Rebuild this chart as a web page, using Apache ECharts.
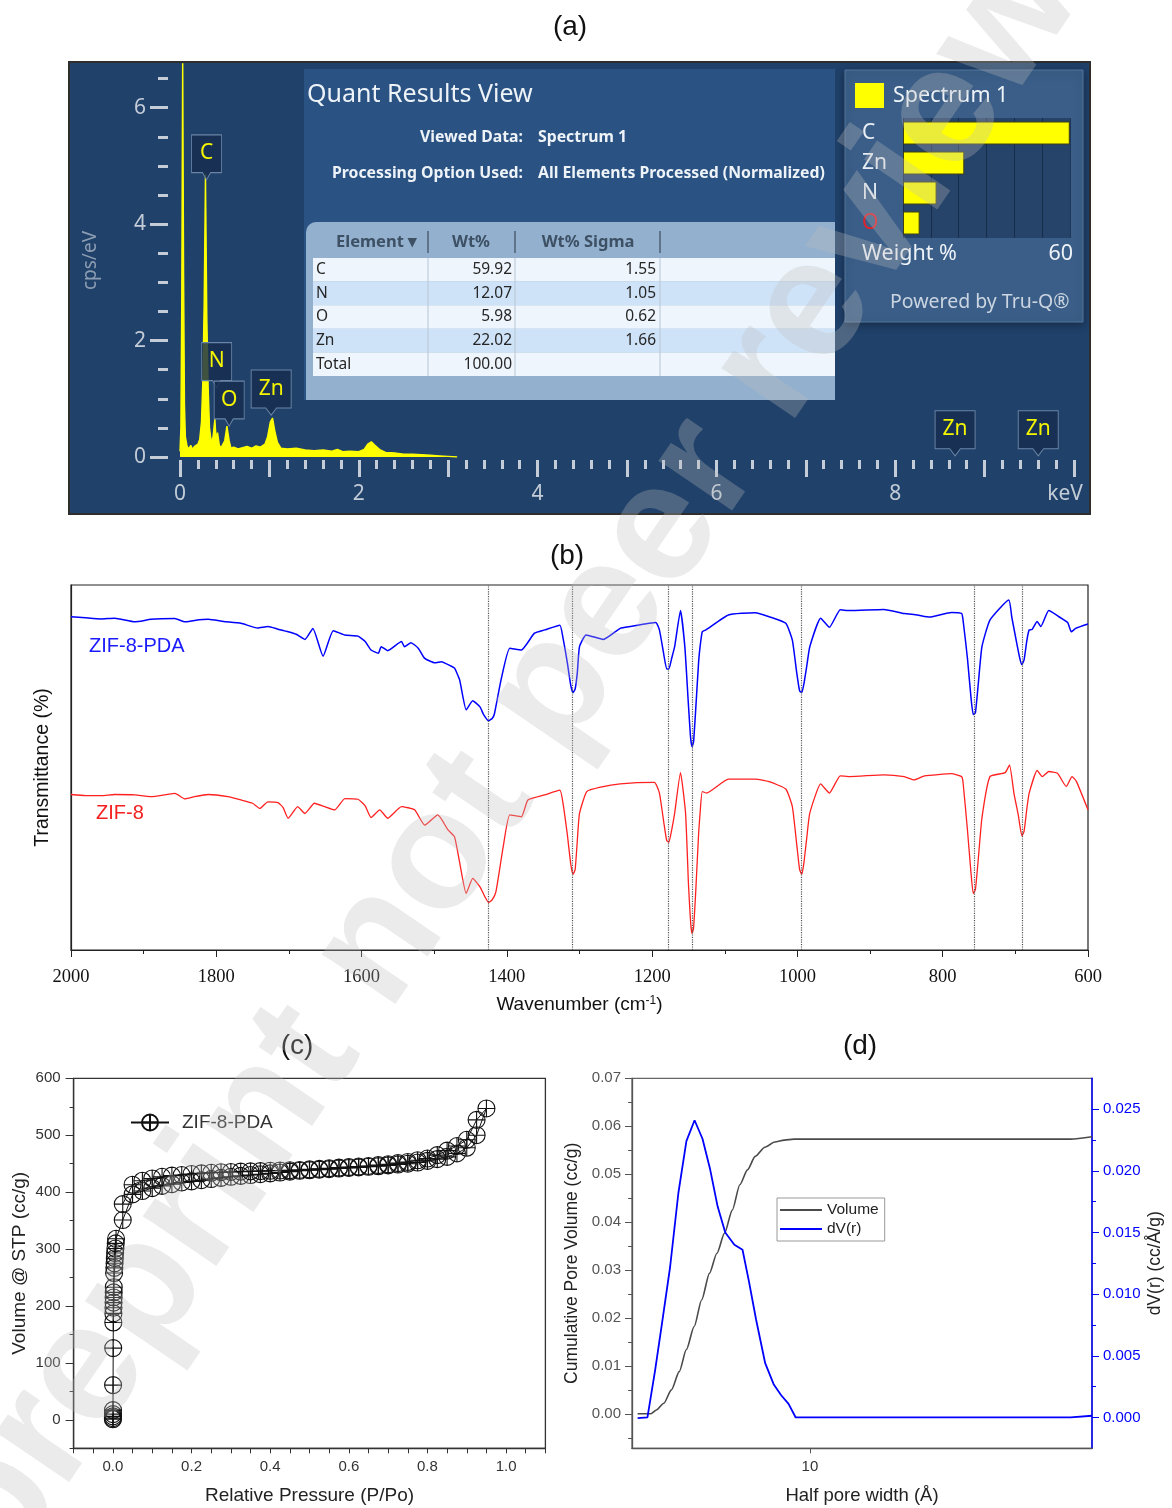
<!DOCTYPE html>
<html>
<head>
<meta charset="utf-8">
<script src="https://cdn.jsdelivr.net/npm/echarts@6/dist/echarts.min.js"></script>
<style>
html,body{margin:0;padding:0;background:#fff;}
#chart{width:1172px;height:1508px;}
</style>
</head>
<body>
<div id="chart"></div>
<script>
// ---------- (a) EDS spectrum ----------
const edsKeV = [0, 0.01, 0.02, 0.03, 0.04, 0.05, 0.06, 0.08, 0.10, 0.12, 0.14, 0.16, 0.18, 0.20, 0.22, 0.24, 0.255, 0.27, 0.285,
  0.30, 0.315, 0.33, 0.35, 0.37, 0.39, 0.405, 0.42, 0.44, 0.46, 0.48, 0.50, 0.525, 0.55, 0.57, 0.60, 0.65, 0.70, 0.75, 0.80,
  0.85, 0.90, 0.95, 0.98, 1.01, 1.035, 1.06, 1.09, 1.13, 1.20, 1.30, 1.40, 1.50, 1.60, 1.70, 1.76, 1.82, 1.90, 2.00, 2.06,
  2.10, 2.14, 2.18, 2.24, 2.30, 2.40, 2.50, 2.60, 2.70, 2.80, 2.90, 3.00, 3.10];
const edsCps = [0.10, 0.50, 2.80, 6.90, 3.20, 0.90, 0.35, 0.18, 0.14, 0.20, 0.13, 0.18, 0.15, 0.22, 0.30, 0.60, 1.30, 2.60, 4.85,
  2.40, 1.20, 0.50, 0.25, 0.35, 0.65, 0.28, 0.42, 0.20, 0.16, 0.15, 0.28, 0.53, 0.28, 0.15, 0.17, 0.14, 0.16, 0.18, 0.15,
  0.19, 0.17, 0.22, 0.35, 0.60, 0.67, 0.45, 0.25, 0.15, 0.14, 0.15, 0.12, 0.11, 0.12, 0.10, 0.13, 0.09, 0.10, 0.09, 0.13,
  0.22, 0.26, 0.20, 0.12, 0.08, 0.07, 0.05, 0.05, 0.04, 0.03, 0.02, 0.01, 0.0];
const edsYMajor = [0, 2, 4, 6];
const edsYMinor = [0.5, 1, 1.5, 2.5, 3, 3.5, 4.5, 5, 5.5, 6.5];
// element line markers
const edsLineText = ['C', 'N', 'O', 'Zn', 'Zn', 'Zn'];
const edsLineKeV = [0.297, 0.41, 0.55, 1.02, 8.67, 9.6];
const edsLineCps = [4.76, 1.19, 0.53, 0.72, 0.02, 0.02];

// quantification results
const quantElements = ['C', 'N', 'O', 'Zn'];
const quantWt = [59.92, 12.07, 5.98, 22.02];
const quantSigma = [1.55, 1.05, 0.62, 1.66];
const quantTotal = 100.00;
const weightMax = 60;

// ---------- (b) FTIR ----------
const pdaWn = [2000,1980,1959,1940,1912,1890,1857,1843,1830,1811,1790,1766,1743,1729,1715,1701,1690,1678,1667,1653,
  1639,1623,1605,1595,1587,1577,1573,1564,1545,1541,1532,1522,1513,1499,1490,1477,1472,1465,1456,1447,
  1437,1432,1425,1420,1417,1408,1396,1380,1362,1348,1327,1323,1317,1312,1309,1306,1303,1300,1291,1267,
  1244,1230,1195,1190,1184,1180,1177,1173,1169,1161,1155,1150,1147,1145,1143,1140,1136,1134,1131,1126,
  1095,1058,1039,1016,1007,1001,997,994,991,987,983,968,956,941,928,881,853,835,818,788,
  774,772,766,761,758,755,751,746,735,709,705,699,694,691,688,684,681,677,670,665,654,640,628,623,617,600];
const pdaT = [91.3,91.0,90.7,90.9,89.9,90.6,90.8,89.9,90.3,90.6,90.0,89.5,88.2,88.6,87.9,87.2,86.5,85.1,88.1,80.5,
  87.5,86.3,86.0,84.5,82.2,81.3,83.1,82.0,84.5,83.1,84.2,82.7,79.9,78.7,79.0,77.8,77.2,74.0,65.8,68.3,
  66.6,64.5,62.8,63.5,64.8,74.0,82.7,82.2,86.8,87.7,89.0,85.8,79.0,72.5,70.5,71.5,76.0,83.1,86.3,85.1,
  88.1,88.6,89.7,87.7,81.0,77.0,77.0,80.0,83.1,93.0,83.1,67.0,58.0,55.7,57.0,66.0,79.0,83.1,87.2,87.7,
  91.8,92.4,91.3,89.5,84.9,76.0,71.0,70.5,73.0,78.0,83.1,90.9,88.4,93.2,93.0,93.3,92.2,91.8,91.2,92.5,
  92.2,90.4,80.0,69.0,64.5,65.0,73.0,83.1,90.4,95.9,91.3,85.0,80.0,78.2,79.5,85.0,87.7,87.8,90.0,88.6,93.0,91.3,89.7,87.2,88.1,89.3];
const zifWn = [2000,1980,1958,1940,1912,1890,1857,1843,1830,1811,1784,1766,1750,1740,1729,1715,1708,1701,1688,1678,
  1665,1651,1637,1623,1605,1595,1587,1575,1564,1545,1527,1513,1495,1481,1472,1465,1456,1447,1437,1430,
  1425,1420,1415,1405,1396,1380,1371,1348,1327,1323,1317,1312,1309,1306,1303,1300,1290,1271,1244,1197,
  1190,1184,1180,1177,1173,1169,1161,1154,1150,1147,1145,1143,1140,1136,1134,1131,1125,1095,1058,1039,
  1016,1007,1001,997,994,991,987,983,968,956,941,928,881,853,839,825,788,774,772,766,
  761,758,755,751,746,735,714,708,702,696,691,688,684,681,670,663,654,642,630,622,616,600];
const zifT = [42.6,42.3,42.3,42.6,42.5,42.0,42.9,41.4,42.0,42.6,42.0,41.1,40.2,38.8,40.6,40.4,39.0,36.1,39.3,37.4,
  40.2,39.3,38.4,41.5,41.3,39.5,36.3,38.4,36.1,39.3,38.4,34.2,37.0,32.9,31.0,24.0,15.5,19.6,17.3,14.5,
  13.0,13.8,16.0,28.3,37.0,36.5,41.1,42.5,43.8,40.6,32.0,23.5,20.7,22.0,30.0,37.4,43.4,44.6,45.5,45.9,
  43.0,35.0,30.0,29.5,33.0,37.5,48.6,37.5,18.0,7.5,4.5,6.0,16.0,32.0,37.5,43.4,43.0,46.8,46.8,46.1,
  44.1,39.3,29.0,22.0,20.7,24.0,31.0,37.5,45.5,43.0,47.7,47.5,48.0,47.5,46.6,47.7,48.3,47.5,45.9,33.0,
  21.0,15.5,16.5,25.0,36.2,47.5,48.6,50.7,43.0,37.0,31.3,32.5,39.0,43.0,49.2,47.5,48.9,48.4,44.8,47.5,46.2,38.4];
const bandWn = [1426, 1310, 1178, 1145, 995, 757, 690];

// ---------- (c) N2 isotherm ----------
const adsP = [0.00001,0.00003,0.00006,0.0001,0.0002,0.0004,0.0007,0.001,0.0012,0.0014,0.0016,0.0018,0.002,0.0022,0.003,
  0.0036,0.0042,0.0049,0.0056,0.0064,0.0072,0.008,0.025,0.05,0.075,0.1,0.125,0.15,0.175,0.2,0.225,0.25,0.275,0.3,
  0.325,0.35,0.375,0.4,0.425,0.45,0.475,0.5,0.525,0.55,0.575,0.6,0.625,0.65,0.675,0.7,0.725,0.75,0.775,0.8,0.825,
  0.85,0.875,0.9,0.925,0.95];
const adsV = [1,3,6,10,17,61,126,171,187,197,206,215,224,233,258,267,275,284,293,301,310,318,351,396,402,407,411,414,
  417,419,421,423,425,427,428.5,430,431.5,433,434.5,436,437.5,438.5,439.5,440.5,441.5,442.5,443.5,444.5,445.5,447,
  448.5,450,452,455,458,462,468,478,500,547];
const desP = [0.925,0.9,0.875,0.85,0.825,0.8,0.775,0.75,0.725,0.7,0.675,0.65,0.625,0.6,0.575,0.55,0.525,0.5,0.475,0.45,
  0.425,0.4,0.375,0.35,0.325,0.3,0.275,0.25,0.225,0.2,0.175,0.15,0.125,0.1,0.075,0.05,0.025];
const desV = [527,492,481,473,465,459,456,453,451,449,447.5,446,445,444,443,442,441,440,439,438.5,438,437.5,437,436.5,
  436,435.5,435,434,433,432,430,429,427,424,420,413,379];
const isoXLabels = [0, 0.2, 0.4, 0.6, 0.8, 1.0];
const isoYLabels = [0, 100, 200, 300, 400, 500, 600];
const isoYMinor = [-50, 50, 150, 250, 350, 450, 550];

// ---------- (d) pore size distribution ----------
const volR = [5.11,5.38,5.50,5.66,5.83,6.01,6.18,6.37,6.56,6.76,6.96,7.17,7.39,7.61,7.84,8.08,8.39,8.72,9.05,9.40,27.6,30.0];
const volV = [0.0000,0.0000,0.0008,0.0022,0.0050,0.0088,0.0134,0.0182,0.0238,0.0293,0.0335,0.0377,0.0425,0.0478,
  0.0509,0.0537,0.0556,0.0567,0.0571,0.0573,0.0573,0.0578];
const dvR = [5.11,5.31,5.47,5.63,5.80,5.99,6.18,6.38,6.58,6.78,6.98,7.19,7.45,7.69,7.88,8.11,8.40,8.68,8.94,9.20,9.46,27.6,30.0];
const dvV = [-0.00005,0.0000,0.0038,0.0079,0.0122,0.0182,0.0224,0.0241,0.0226,0.0201,0.0171,0.0150,0.0140,0.0136,
  0.0111,0.0079,0.0044,0.0027,0.0018,0.0011,0.0000,0.0000,0.00014];
const poreLeftLabels = [0, 0.01, 0.02, 0.03, 0.04, 0.05, 0.06, 0.07];
const poreLeftMinor = [-0.005, 0.005, 0.015, 0.025, 0.035, 0.045, 0.055, 0.065];
const poreRightLabels = [0, 0.005, 0.01, 0.015, 0.02, 0.025];
const poreRightMinor = [0.0025, 0.0075, 0.0125, 0.0175, 0.0225];

// ---------- styling helpers ----------
const SANS = '"Liberation Sans", Arial, sans-serif';
const UI = '"Noto Sans", "Open Sans", sans-serif';
const SERIF = '"Liberation Serif", "Times New Roman", serif';
const EDS_FG = '#c3ccd7';

const pairs = (xs, ys) => xs.map((x, i) => [x, ys[i]]);
const isoXTicks = [];
for (let i = -2; i <= 22; i++) isoXTicks.push(+(i * 0.05).toFixed(2));

const barOrder = quantElements.map((e, i) => ({ e: e, w: quantWt[i] })).sort((a, b) => b.w - a.w);

const calloutPath = 'path://M0,0 L30,0 L30,37 L19,37 L15,44 L11,37 L0,37 Z';
const circlePlus = 'path://M10,0 A10,10 0 1,1 10,20 A10,10 0 1,1 10,0 Z M0,10 L20,10 M10,0 L10,20';

function text(x, y, s, style, z) {
  return { type: 'text', x: x, y: y, z: z == null ? 5 : z, silent: true,
    style: Object.assign({ text: s, fontFamily: UI, fontSize: 16, fill: '#ffffff', align: 'left', verticalAlign: 'middle' }, style) };
}
function rect(x, y, w, h, style, z, r) {
  return { type: 'rect', z: z == null ? -5 : z, silent: true, shape: { x: x, y: y, width: w, height: h, r: r || 0 }, style: style };
}
function seg(x1, y1, x2, y2, stroke, w, z) {
  return { type: 'line', z: z == null ? 1 : z, silent: true, shape: { x1: x1, y1: y1, x2: x2, y2: y2 }, style: { stroke: stroke, lineWidth: w || 1 } };
}
function axisLine(color, width) {
  return { show: true, onZero: false, lineStyle: { color: color, width: width } };
}
const hiddenLine = { show: false, onZero: false };

// ---------- static layers ----------
const gfx = [];
// EDS software panel
gfx.push(rect(69, 62, 1021, 452, { fill: '#20416a', stroke: '#2e2e2e', lineWidth: 2 }, -10));
gfx.push(rect(304, 69, 531, 331, { fill: '#2a5282' }, -9));
gfx.push(text(307, 95, 'Quant Results View', { fontSize: 25, fill: '#eef3f8' }));
const infoStyle = { fontSize: 15.8, fontWeight: 'bold', fill: '#eef3f8' };
gfx.push(text(523, 137, 'Viewed Data:', Object.assign({ align: 'right' }, infoStyle)));
gfx.push(text(538, 137, 'Spectrum 1', infoStyle));
gfx.push(text(523, 173, 'Processing Option Used:', Object.assign({ align: 'right' }, infoStyle)));
gfx.push(text(538, 173, 'All Elements Processed (Normalized)', infoStyle));

// results table
gfx.push(rect(306, 222, 529, 178, { fill: '#93b1ce' }, -8, [10, 0, 0, 0]));
const headStyle = { fontSize: 16.5, fontWeight: 'bold', fill: '#3d5064' };
gfx.push(text(336, 242, 'Element \u25BE', headStyle));
gfx.push(text(471, 242, 'Wt%', Object.assign({ align: 'center' }, headStyle)));
gfx.push(text(588, 242, 'Wt% Sigma', Object.assign({ align: 'center' }, headStyle)));
[428, 515, 660].forEach(x => gfx.push(seg(x, 231, x, 253, '#5f7489', 2)));
const rowLabels = quantElements.concat(['Total']);
const rowWt = quantWt.map(v => v.toFixed(2)).concat([quantTotal.toFixed(2)]);
const rowSigma = quantSigma.map(v => v.toFixed(2)).concat(['']);
const rowH = 23.6;
rowLabels.forEach((lab, i) => {
  const y0 = 258 + i * rowH;
  gfx.push(rect(313, y0, 522, rowH, { fill: i % 2 ? '#cfe3f8' : '#eef5fc' }, -7));
  const cell = { fontSize: 15.5, fill: '#262626' };
  gfx.push(text(316, y0 + rowH / 2, lab, cell));
  gfx.push(text(512, y0 + rowH / 2, rowWt[i], Object.assign({ align: 'right' }, cell)));
  gfx.push(text(656, y0 + rowH / 2, rowSigma[i], Object.assign({ align: 'right' }, cell)));
});
[428, 515, 660].forEach(x => gfx.push(seg(x, 258, x, 258 + 5 * rowH, '#b7c5d3', 1)));

// weight % summary box
gfx.push(rect(845, 70, 238, 252, { fill: '#3a5e88', stroke: '#52769e', lineWidth: 1,
  shadowBlur: 8, shadowColor: 'rgba(0,0,0,0.35)', shadowOffsetY: 2 }, -9));
gfx.push(rect(855, 83, 29, 25, { fill: '#ffff00' }, 1));
gfx.push(text(893, 96, 'Spectrum 1', { fontSize: 21.5, fill: '#eef3f8' }));
gfx.push(text(862, 254, 'Weight %', { fontSize: 21.5, fill: '#eef3f8' }));
gfx.push(text(1073, 254, String(weightMax), { fontSize: 21.5, fill: '#eef3f8', align: 'right' }));
gfx.push(text(890, 302, 'Powered by Tru-Q\u00AE', { fontSize: 19.5, fill: '#cbd5e1' }));

// panel titles
[['(a)', 570, 27], ['(b)', 567, 556], ['(c)', 297, 1046], ['(d)', 860, 1046]].forEach(t =>
  gfx.push(text(t[1], t[2], t[0], { fontFamily: SANS, fontSize: 28, fill: '#111', align: 'center' })));

// FTIR trace names
gfx.push(text(89, 646, 'ZIF-8-PDA', { fontFamily: SANS, fontSize: 20, fill: '#1a1aff' }));
gfx.push(text(96, 813, 'ZIF-8', { fontFamily: SANS, fontSize: 20, fill: '#f52020' }));

// diagonal stamp
gfx.push({ type: 'text', x: 561, y: 679, rotation: 0.972, z: 100, silent: true,
  style: { text: 'preprint not peer reviewed', fontFamily: SANS, fontWeight: 'bold', fontSize: 168,
    fill: 'rgba(190,190,190,0.3)', align: 'center', verticalAlign: 'middle' } });

const noBounds = { outerBoundsMode: 'none' };

const option = {
  backgroundColor: '#ffffff',
  animation: false,
  textStyle: { fontFamily: SANS },
  grid: [
    Object.assign({ left: 180, top: 64, width: 894, height: 393 }, noBounds),
    Object.assign({ left: 903, top: 118, width: 167, height: 120, show: true, backgroundColor: 'rgba(22,46,80,0.55)', borderWidth: 0 }, noBounds),
    Object.assign({ left: 71, top: 585, width: 1017, height: 365, show: true, borderColor: '#222', borderWidth: 1.2 }, noBounds),
    Object.assign({ left: 73.6, top: 1078.3, width: 471.8, height: 370, show: true, borderColor: '#333', borderWidth: 1.3 }, noBounds),
    Object.assign({ left: 632, top: 1078.3, width: 460, height: 370, show: true, borderColor: '#666', borderWidth: 1.3 }, noBounds)
  ],
  xAxis: [
    { // 0: EDS energy, fine ticks and labels
      gridIndex: 0, type: 'value', min: 0, max: 10, interval: 0.2, position: 'bottom', offset: 3,
      axisLine: hiddenLine, splitLine: { show: false },
      axisTick: { show: true, length: 9, lineStyle: { color: EDS_FG, width: 3 } },
      axisLabel: { margin: 24, color: EDS_FG, fontSize: 21, fontFamily: UI,
        formatter: function (v) {
          const r = Math.round(v);
          if (Math.abs(v - r) > 1e-6) return '';
          if (r === 10) return '{k|keV}';
          return r % 2 === 0 ? String(r) : '';
        },
        rich: { k: { color: EDS_FG, fontSize: 21, fontFamily: UI, padding: [0, 18, 0, 0] } } }
    },
    { // 1: EDS energy, whole-keV ticks
      gridIndex: 0, type: 'value', min: 0, max: 10, interval: 1, position: 'bottom', offset: 3,
      axisLine: hiddenLine, splitLine: { show: false }, axisLabel: { show: false },
      axisTick: { show: true, length: 17, lineStyle: { color: EDS_FG, width: 3 } }
    },
    { // 2: weight % bars
      gridIndex: 1, type: 'value', min: 0, max: weightMax, interval: 10,
      axisLine: hiddenLine, axisTick: { show: false }, axisLabel: { show: false },
      splitLine: { show: true, lineStyle: { color: 'rgba(12,30,55,0.6)', width: 1 } }
    },
    { // 3: FTIR wavenumber
      gridIndex: 2, type: 'value', min: 600, max: 2000, interval: 200, inverse: true, position: 'bottom',
      axisLine: axisLine('#222', 1.2),
      axisTick: { show: true, length: 7, lineStyle: { color: '#222' } },
      axisLabel: { margin: 18, color: '#111', fontSize: 18.5, fontFamily: SERIF, formatter: v => String(v) },
      splitLine: { show: false },
      name: 'Wavenumber (cm{sup|-1})', nameLocation: 'middle', nameGap: 45, nameMoveOverlap: false,
      nameTextStyle: { fontSize: 19, color: '#111', fontFamily: SANS,
        rich: { sup: { fontSize: 12, verticalAlign: 'top', fontFamily: SANS, color: '#111' } } }
    },
    { // 4: FTIR minor ticks
      gridIndex: 2, type: 'value', min: 600, max: 2000, interval: 100, inverse: true, position: 'bottom',
      axisLine: hiddenLine, axisLabel: { show: false }, splitLine: { show: false },
      axisTick: { show: true, length: 4, lineStyle: { color: '#222' } }
    },
    { // 5: relative pressure
      gridIndex: 3, type: 'value', min: -0.1, max: 1.1, position: 'bottom',
      axisLine: axisLine('#333', 1.3),
      axisTick: { show: true, customValues: isoXTicks, length: 5, lineStyle: { color: '#333' } },
      axisLabel: { customValues: isoXLabels, formatter: v => v.toFixed(1), margin: 11, fontSize: 15, color: '#333' },
      splitLine: { show: false },
      name: 'Relative Pressure (P/Po)', nameLocation: 'middle', nameGap: 38, nameMoveOverlap: false,
      nameTextStyle: { fontSize: 19, color: '#222' }
    },
    { // 6: half pore width (log)
      gridIndex: 4, type: 'log', logBase: 10, min: 5, max: 30, position: 'bottom',
      axisLine: axisLine('#555', 1.3),
      axisTick: { show: true, length: 5, lineStyle: { color: '#555' } },
      axisLabel: { showMinLabel: false, showMaxLabel: false, margin: 11, fontSize: 15, color: '#333' },
      splitLine: { show: false }, minorTick: { show: false },
      name: 'Half pore width (\u00C5)', nameLocation: 'middle', nameGap: 38, nameMoveOverlap: false,
      nameTextStyle: { fontSize: 18.5, color: '#222' }
    }
  ],
  yAxis: [
    { // 0: EDS counts, labelled ticks
      gridIndex: 0, type: 'value', min: 0, max: 6.75, position: 'left', offset: 12,
      axisLine: hiddenLine, splitLine: { show: false },
      axisTick: { show: true, customValues: edsYMajor, length: 18, lineStyle: { color: EDS_FG, width: 3 } },
      axisLabel: { customValues: edsYMajor, margin: 22, color: EDS_FG, fontSize: 21, fontFamily: UI },
      name: 'cps/eV', nameLocation: 'middle', nameGap: 68, nameRotate: 90, nameMoveOverlap: false,
      nameTextStyle: { color: '#8c9db2', fontSize: 19, fontFamily: UI }
    },
    { // 1: EDS counts, half-step ticks
      gridIndex: 0, type: 'value', min: 0, max: 6.75, position: 'left', offset: 12,
      axisLine: hiddenLine, splitLine: { show: false }, axisLabel: { show: false },
      axisTick: { show: true, customValues: edsYMinor, length: 10, lineStyle: { color: EDS_FG, width: 3 } }
    },
    { // 2: weight % categories
      gridIndex: 1, type: 'category', data: barOrder.map(d => d.e), inverse: true,
      axisLine: hiddenLine, axisTick: { show: false }, splitLine: { show: false },
      axisLabel: { margin: 41, align: 'left', color: '#e9eef4', fontSize: 21, fontFamily: UI,
        formatter: v => (v === 'O' ? '{red|O}' : v),
        rich: { red: { color: '#e0232b', fontSize: 21, fontFamily: UI } } }
    },
    { // 3: FTIR transmittance
      gridIndex: 2, type: 'value', min: 0, max: 100,
      axisLine: axisLine('#222', 1.2),
      axisTick: { show: false }, axisLabel: { show: false }, splitLine: { show: false },
      name: 'Transmittance (%)', nameLocation: 'middle', nameGap: 18, nameRotate: 90, nameMoveOverlap: false,
      nameTextStyle: { fontSize: 19.5, color: '#111' }
    },
    { // 4: adsorbed volume
      gridIndex: 3, type: 'value', min: -50, max: 600, position: 'left',
      axisLine: axisLine('#333', 1.3),
      axisTick: { show: true, customValues: isoYLabels, length: 8, lineStyle: { color: '#333' } },
      axisLabel: { customValues: isoYLabels, margin: 13, fontSize: 15, color: '#333' },
      splitLine: { show: false },
      name: 'Volume @ STP (cc/g)', nameLocation: 'middle', nameGap: 44, nameRotate: 90, nameMoveOverlap: false,
      nameTextStyle: { fontSize: 19, color: '#222' }
    },
    { // 5: adsorbed volume, minor ticks
      gridIndex: 3, type: 'value', min: -50, max: 600, position: 'left',
      axisLine: hiddenLine, axisLabel: { show: false }, splitLine: { show: false },
      axisTick: { show: true, customValues: isoYMinor, length: 4, lineStyle: { color: '#333' } }
    },
    { // 6: cumulative pore volume
      gridIndex: 4, type: 'value', min: -0.0072, max: 0.07, position: 'left',
      axisLine: axisLine('#555', 1.3),
      axisTick: { show: true, customValues: poreLeftLabels, length: 7, lineStyle: { color: '#555' } },
      axisLabel: { customValues: poreLeftLabels, formatter: v => v.toFixed(2), margin: 11, fontSize: 15, color: '#555' },
      splitLine: { show: false },
      name: 'Cumulative Pore Volume (cc/g)', nameLocation: 'middle', nameGap: 51, nameRotate: 90, nameMoveOverlap: false,
      nameTextStyle: { fontSize: 17.5, color: '#222' }
    },
    { // 7: cumulative pore volume, minor ticks
      gridIndex: 4, type: 'value', min: -0.0072, max: 0.07, position: 'left',
      axisLine: hiddenLine, axisLabel: { show: false }, splitLine: { show: false },
      axisTick: { show: true, customValues: poreLeftMinor, length: 4, lineStyle: { color: '#555' } }
    },
    { // 8: dV(r)
      gridIndex: 4, type: 'value', min: -0.0025, max: 0.0275, position: 'right',
      axisLine: axisLine('#0000ff', 1.5),
      axisTick: { show: true, customValues: poreRightLabels, length: 7, lineStyle: { color: '#0000ff' } },
      axisLabel: { customValues: poreRightLabels, formatter: v => v.toFixed(3), margin: 11, fontSize: 15, color: '#0000ff' },
      splitLine: { show: false },
      name: 'dV(r) (cc/\u00C5/g)', nameLocation: 'middle', nameGap: 54, nameRotate: 90, nameMoveOverlap: false,
      nameTextStyle: { fontSize: 17.5, color: '#222' }
    },
    { // 9: dV(r), minor ticks
      gridIndex: 4, type: 'value', min: -0.0025, max: 0.0275, position: 'right',
      axisLine: hiddenLine, axisLabel: { show: false }, splitLine: { show: false },
      axisTick: { show: true, customValues: poreRightMinor, length: 4, lineStyle: { color: '#0000ff' } }
    }
  ],
  legend: [
    { data: ['ZIF-8-PDA'], left: 130, top: 1113, padding: 0, itemWidth: 38, itemHeight: 20, selectedMode: false,
      textStyle: { fontSize: 19, color: '#333', padding: [0, 0, 0, 8] } },
    { data: ['Volume', 'dV(r)'], orient: 'vertical', left: 777, top: 1198, padding: [4, 6, 4, 3], itemGap: 3,
      itemWidth: 42, itemHeight: 2, icon: 'rect', selectedMode: false, borderColor: '#999', borderWidth: 1,
      textStyle: { fontSize: 15.5, color: '#222' } }
  ],
  series: [
    {
      type: 'line', name: 'EDS Spectrum 1', xAxisIndex: 0, yAxisIndex: 0, data: pairs(edsKeV, edsCps),
      symbol: 'none', z: 3, color: '#ffff00',
      lineStyle: { color: '#ffff00', width: 1.4 }, areaStyle: { color: '#ffff00', opacity: 1 },
      markPoint: {
        symbol: calloutPath, symbolOffset: [0, '-50%'], silent: true,
        itemStyle: { color: 'rgba(22,45,78,0.82)', borderColor: '#6a85a6', borderWidth: 1 },
        label: { show: true, position: 'inside', formatter: '{b}', color: '#f4f400', fontSize: 21, fontFamily: UI, offset: [0, -4] },
        data: edsLineText.map((t, i) => ({ name: t, coord: [edsLineKeV[i], edsLineCps[i]], symbolSize: [t.length > 1 ? 40 : 30, 45] }))
      }
    },
    {
      type: 'bar', name: 'Weight %', xAxisIndex: 2, yAxisIndex: 2, data: barOrder.map(d => d.w), barWidth: 23,
      itemStyle: { color: '#ffff00', borderColor: '#404012', borderWidth: 1 }
    },
    {
      type: 'line', name: 'ZIF-8-PDA FTIR', xAxisIndex: 3, yAxisIndex: 3, data: pairs(pdaWn, pdaT),
      symbol: 'none', smooth: 0.15, z: 3, color: '#0000ff', lineStyle: { color: '#0000ff', width: 1.5 },
      markLine: { silent: true, symbol: ['none', 'none'], label: { show: false },
        lineStyle: { type: 'dotted', color: '#555', width: 1.2 }, data: bandWn.map(w => ({ xAxis: w })) }
    },
    {
      type: 'line', name: 'ZIF-8 FTIR', xAxisIndex: 3, yAxisIndex: 3, data: pairs(zifWn, zifT),
      symbol: 'none', smooth: 0.15, z: 3, color: '#ff2020', lineStyle: { color: '#ff2020', width: 1.3 }
    },
    {
      type: 'line', name: 'ZIF-8-PDA', xAxisIndex: 5, yAxisIndex: 4,
      data: pairs(adsP, adsV).concat(pairs(desP, desV)),
      symbol: circlePlus, symbolSize: 17, showSymbol: true, z: 3, color: '#111',
      itemStyle: { color: 'rgba(255,255,255,0)', borderColor: '#111', borderWidth: 1.1 },
      lineStyle: { color: '#111', width: 1 }
    },
    {
      type: 'line', name: 'Volume', xAxisIndex: 6, yAxisIndex: 6, data: pairs(volR, volV),
      symbol: 'none', smooth: 0.25, smoothMonotone: 'x', z: 3, color: '#4a4a4a',
      lineStyle: { color: '#4a4a4a', width: 1.6 }
    },
    {
      type: 'line', name: 'dV(r)', xAxisIndex: 6, yAxisIndex: 8, data: pairs(dvR, dvV),
      symbol: 'none', z: 3, color: '#0000ff', lineStyle: { color: '#0000ff', width: 1.8 }
    }
  ],
  graphic: { elements: gfx }
};

const chart = echarts.init(document.getElementById('chart'));
chart.setOption(option);
</script>
</body>
</html>
